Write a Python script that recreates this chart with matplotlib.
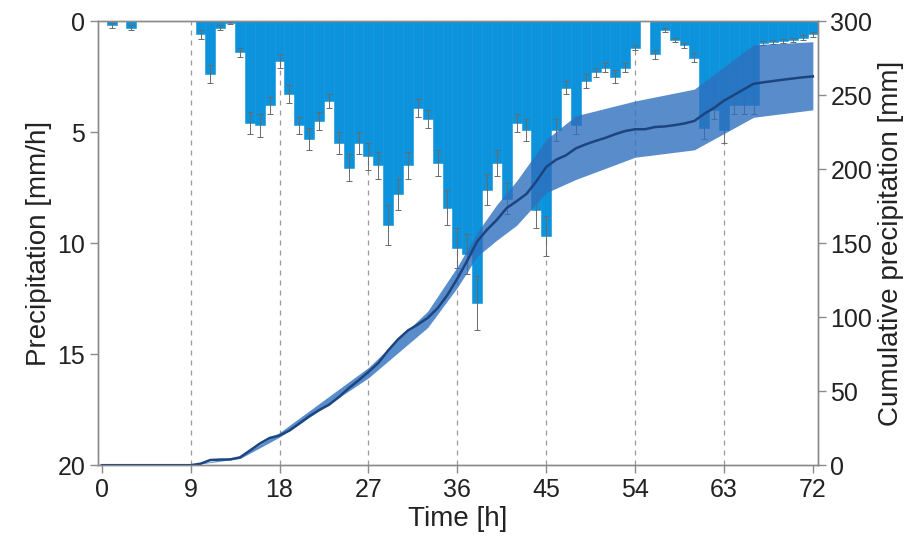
import matplotlib
matplotlib.use("Agg")
import matplotlib.pyplot as plt

plt.rcParams['font.family'] = ['Liberation Sans', 'DejaVu Sans']

hours = list(range(0, 73))

# hourly precipitation [mm/h], bar centred on the hour
precip = [0, 0.2, 0, 0.3, 0, 0, 0, 0, 0, 0,
          0.6, 2.4, 0.3, 0.1, 1.4, 4.6, 4.7, 3.8, 1.8, 3.3,
          4.7, 5.3, 4.5, 3.6, 5.5, 6.6, 5.5, 6.1, 6.5, 9.2,
          7.8, 6.5, 3.9, 4.4, 6.4, 8.4, 10.2, 10.5, 12.7, 7.6,
          6.4, 8.0, 4.6, 4.9, 8.5, 9.7, 4.9, 3.0, 4.7, 2.7,
          2.3, 2.1, 2.5, 2.1, 1.2, 0, 1.5, 0.4, 0.85, 1.1,
          1.65, 4.8, 4.0, 4.9, 3.8, 3.8, 3.8, 1.0, 0.95, 0.9,
          0.85, 0.75, 0.6]

precip_err = [0, 0.1, 0, 0.1, 0, 0, 0, 0, 0, 0,
              0.2, 0.4, 0.1, 0.05, 0.2, 0.5, 0.5, 0.4, 0.3, 0.4,
              0.4, 0.5, 0.4, 0.3, 0.5, 0.6, 0.5, 0.6, 0.6, 0.9,
              0.7, 0.6, 0.4, 0.4, 0.6, 0.8, 0.9, 0.9, 1.2, 0.7,
              0.6, 0.7, 0.4, 0.5, 0.8, 0.9, 0.5, 0.3, 0.4, 0.3,
              0.2, 0.2, 0.3, 0.2, 0.1, 0, 0.2, 0.1, 0.1, 0.1,
              0.2, 0.5, 0.4, 0.6, 0.4, 0.4, 0.4, 0.1, 0.1, 0.1,
              0.1, 0.1, 0.1]

# cumulative precipitation [mm]
cum = [0, 0, 0, 0, 0, 0, 0, 0, 0, 0,
       1.0, 3.5, 3.8, 3.9, 5.3, 9.9, 14.6, 18.4, 20.1, 23.4,
       28.1, 33.0, 37.2, 40.8, 46.0, 52.0, 57.3, 63.0, 69.0, 77.5,
       85.0, 91.0, 95.0, 99.5, 106.0, 115.0, 126.0, 138.0, 151.0, 159.0,
       165.7, 173.7, 178.3, 183.2, 191.7, 201.4, 206.3, 209.3, 214.0, 216.7,
       219.0, 221.1, 223.6, 225.7, 226.9, 226.9, 228.4, 228.8, 229.7, 230.8,
       232.5, 237.3, 241.3, 246.2, 250.0, 253.8, 257.6, 258.6, 259.5, 260.4,
       261.2, 262.0, 262.6]

# uncertainty band of the cumulative curve
band_t = [0, 9, 14, 18, 27, 33, 36, 38, 40, 42, 45, 48, 54, 60, 66, 72]
band_lo = [0, 0, 4.5, 19, 59, 93, 120, 141, 152, 162, 184, 193, 208, 213, 235, 240]
band_hi = [0, 0, 6, 22, 66, 104, 134, 157, 176, 192, 220, 236, 246, 254, 284, 286]

vlines = [9, 18, 27, 36, 45, 54, 63]
xticks = [0, 9, 18, 27, 36, 45, 54, 63, 72]

bar_col = '#0c93dc'
band_col = '#2f6fbf'
line_col = '#1c4580'
grey = '#8a8a8a'

fig, ax = plt.subplots(figsize=(9.23, 5.46), dpi=100)
fig.subplots_adjust(left=0.106, right=0.886, top=0.9615, bottom=0.148)

for v in vlines:
    ax.axvline(v, color='#9a9a9a', lw=0.9, ls=(0, (4, 4)), zorder=0)

ax.bar(hours, precip, width=1.0, color=bar_col, edgecolor=bar_col, linewidth=0.4, zorder=2)
ax.errorbar(hours, precip, yerr=precip_err, fmt='none', ecolor='#6a6a6a',
            elinewidth=0.7, capsize=2, capthick=0.7, zorder=3)

ax.set_xlim(-0.4, 72.5)
ax.set_ylim(20, 0)
ax.set_xticks(xticks)
ax.set_yticks([0, 5, 10, 15, 20])
ax.set_xlabel('Time [h]', fontsize=20, color='#222222', labelpad=3)
ax.set_ylabel('Precipitation [mm/h]', fontsize=20, color='#222222', labelpad=4)

ax2 = ax.twinx()
ax2.fill_between(band_t, band_lo, band_hi, color=band_col, alpha=0.8, lw=0, zorder=1)
ax2.plot(hours, cum, color=line_col, lw=1.8, zorder=2)
ax2.set_ylim(0, 300)
ax2.set_yticks([0, 50, 100, 150, 200, 250, 300])
ax2.set_ylabel('Cumulative precipitation [mm]', fontsize=20, color='#222222', labelpad=4)

for a in (ax, ax2):
    for s in a.spines.values():
        s.set_color(grey)
        s.set_linewidth(1.0)
    a.tick_params(direction='out', length=6, width=1.0, color=grey,
                  labelsize=18, labelcolor='#222222', pad=3)

fig.savefig('out.png', dpi=100)
